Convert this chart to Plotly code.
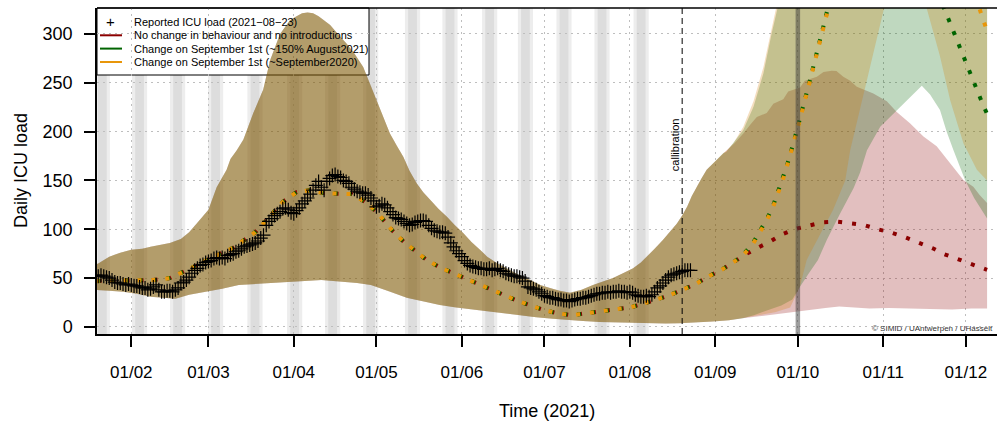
import pandas as pd
import plotly.graph_objects as go

BASE = pd.Timestamp("2021-02-01")  # day 0 of all "days" lists below

# ---------------- data (days are offsets from 2021-02-01) ----------------
obs_start_day = -13
obs_icu = [53, 52, 53, 52, 51, 50, 48,
           46, 45, 45, 44, 43, 44, 43,
           42, 42, 41, 40, 40, 38, 39,
           41, 43, 38, 36, 36, 37, 37,
           36, 38, 40, 45, 46, 48, 51,
           55, 58, 60, 63, 64, 66, 67,
           68, 70, 71, 70, 71, 70, 73,
           74, 75, 77, 78, 80, 82, 83,
           84, 85, 86, 88, 91, 94, 104,
           108, 111, 114, 116, 118, 121, 122,
           120, 117, 116, 119, 122, 126, 129,
           132, 136, 140, 145, 149, 143, 140,
           149, 152, 155, 156, 154, 153, 150,
           149, 147, 143, 141, 139, 138, 137,
           137, 135, 132, 129, 123, 124, 126,
           125, 122, 118, 115, 112, 111, 110,
           108, 106, 104, 105, 107, 108, 109,
           109, 108, 104, 101, 99, 98, 97,
           97, 96, 92, 86, 82, 78, 75,
           72, 68, 65, 63, 62, 61, 60,
           60, 59, 59, 60, 58, 59, 60,
           58, 57, 55, 54, 53, 52, 52,
           51, 50, 47, 41, 40, 39, 38,
           36, 34, 32, 31, 30, 30, 29,
           28, 28, 27, 27, 26, 27, 28,
           29, 29, 30, 30, 31, 32, 33,
           34, 34, 35, 35, 36, 35, 36,
           36, 37, 36, 36, 35, 36, 35,
           33, 32, 31, 31, 32, 31, 33,
           36, 40, 42, 45, 48, 51, 53,
           54, 55, 56, 57, 58, 58, 58]

# common model median (all scenarios identical up to late August)
med_days = [-13, -7, -2, 3, 8, 14, 18, 23, 27, 32, 37, 41, 45, 49, 52, 55, 60, 65, 70, 75,
            80, 85, 89, 92, 95, 99, 103, 107, 112, 116, 121, 126, 131, 135, 140, 145, 150,
            155, 160, 165, 170, 175, 181, 185, 191, 195, 200, 205, 209, 214, 218]
med_vals = [47, 47, 47, 47, 48, 50, 55, 62, 68, 74, 81, 89, 97, 109, 118, 128, 138, 140, 137, 137,
            136, 128, 118, 108, 98, 87, 78, 69, 61, 56, 50, 44, 38, 33, 27, 22, 17,
            14, 12, 14, 16, 18, 20, 23, 28, 32, 38, 44, 51, 58, 65]

red_med_days = [222, 227, 232, 236, 241, 246, 251, 256, 261, 266, 271, 276, 281, 286, 291, 295, 300, 305, 310.7]
red_med_vals = [72.7, 80.5, 87.5, 94.5, 100.3, 103.7, 107.2, 107.8, 106.1, 104.4, 100, 96.5, 91.8, 86.7, 80.5, 74.7, 69.3, 64.5, 58.5]

green_med_days = [222, 225.5, 228.3, 230.7, 232.9, 234.7, 236.4, 238, 239.4, 240.9, 242.1, 243.4, 244.9,
                  246.1, 247.3, 248.6, 249.8, 251, 252.3, 256, 262, 270, 278, 285, 290, 295.7, 297.6,
                  299.5, 301.4, 303.4, 305.2, 307.2, 309.2, 310.7]
green_med_vals = [73.7, 85, 97.6, 110.2, 123.1, 136.8, 150.5, 164.8, 178.4, 192.1, 206, 220.4, 234.7,
                  249.4, 263, 277.4, 291.4, 305, 319.3, 370, 440, 490, 470, 410, 360, 322, 308.4,
                  295.5, 281.8, 268.2, 254.6, 240.9, 227.6, 218]

orange_med_days = [222, 225.5, 228.3, 230.7, 232.9, 234.7, 236.4, 238, 239.4, 240.9, 242.1, 243.4, 244.9,
                   246.1, 247.3, 248.6, 249.8, 251, 252.3, 258, 266, 275, 285, 295, 303, 308.5, 310.2, 310.7]
orange_med_vals = [73, 84, 96.5, 109, 122, 135.5, 149.5, 164, 177.5, 191, 205, 219.5, 234,
                   248.5, 262, 276.5, 290.5, 304, 318.5, 390, 470, 530, 520, 450, 370, 321, 307.4, 303]

# common credible band
cu_days = [-13, -12, -8, -4, 0, 4, 7, 11, 14, 18, 21, 25, 28, 31, 34.6, 36, 38.3, 40.7, 44.3, 47.9,
           50.4, 54, 57.6, 60, 62, 64, 66, 68, 69.7, 72.2, 75, 78.2, 81, 84.2, 86.5, 89.1, 91.5,
           93.9, 96.5, 98.8, 101, 103.6, 106, 108.5, 111.5, 114.5, 117.5, 120.6, 123.5, 126.6,
           129.2, 133, 137.5, 141, 144.8, 148.5, 152, 155.5, 159.3, 163.5, 167.6, 171, 174.9,
           178.5, 182.2, 185, 187.2, 190, 193, 195.5, 198.1, 200, 201.8, 203.5, 205.3, 207,
           208.9, 211, 213.8, 215]
cu_vals = [64, 65, 72, 76, 79, 80, 82, 84, 86, 90, 97, 110, 120, 143, 161, 172, 181, 192, 219, 243,
           273, 300, 314, 318, 321, 322, 321, 318, 314, 309, 300, 290, 280, 266, 250, 232, 215,
           198, 185, 174, 160, 147, 138, 130, 121, 113, 104, 96, 87, 79,
           72, 65, 58, 53, 48, 43, 40, 37, 35, 38, 43, 46, 50,
           55, 60, 66, 72, 80, 89, 97, 106, 114, 123, 134, 144, 152,
           161, 167, 174, 178]
cl_days = [-13, -8, -3, 2, 7, 12, 16, 21, 27, 33, 39, 45, 51, 57, 63, 69, 75, 82, 87, 94, 100, 106,
           112, 118, 124, 130, 136, 141, 147, 153, 158, 164, 170, 176, 181, 188, 194, 199, 205, 211, 217]
cl_vals = [38, 37, 36, 34, 31, 30, 29, 33, 36, 39, 43, 44, 45, 46, 47, 48, 47, 45, 43, 36, 30, 26,
           22.5, 20, 18, 16, 14, 12, 10, 8.5, 7, 6, 5, 4.5, 4, 3.8, 3.6, 3.8, 4.5, 5.5, 7]

# scenario-specific band continuations
red_hi_days = [216.2, 219, 222.2, 225, 227.1, 230.7, 233.1, 236.7, 238.5, 242.8, 244.5, 248.9, 251.3,
               254.3, 256, 258.5, 261, 263.4, 266, 269.4, 274.3, 277.9, 282.7, 287.6, 292.4, 297.3,
               302.1, 305.7, 308, 310.7]
red_hi_vals = [181, 188, 198, 208, 215, 219, 228.5, 233, 241, 245, 252, 256, 261,
               262.3, 262, 256, 252, 246, 243, 239, 231, 220, 208.4, 195, 185, 168,
               150.5, 143.6, 135, 127]
red_lo_days = [222, 228, 233, 242, 248, 252, 257, 262, 268, 275, 282, 290, 298, 305, 310.7]
red_lo_vals = [9, 11, 12.5, 15.7, 18, 19.5, 21, 20, 19, 19.5, 19, 18.5, 18, 19, 19]

green_hi_days = [216, 218.6, 222.2, 225.9, 229.5, 232.5, 234.6, 240, 250, 260, 280, 300, 310.7]
green_hi_vals = [179, 189, 201.6, 225.5, 259.7, 300.6, 326, 440, 680, 880, 980, 930, 880]
green_lo_days = [222, 226, 231, 236, 240, 242.7, 246, 249.3, 252.5, 257.3, 259.8, 262.2, 264.6, 267.1,
                 271.9, 277.3, 282.7, 287, 290, 293.6, 296, 298.5, 302.7, 306, 310.7]
green_lo_vals = [9, 12, 17, 22, 28, 41, 55, 68.6, 89, 116, 130, 142, 158, 181,
                 205, 220, 235, 247, 238, 222, 200, 181, 150.5, 132, 111]

orange_hi_days = [216, 218.6, 222.2, 225.9, 229.5, 232.5, 234.6, 240, 250, 260, 280, 300, 310.7]
orange_hi_vals = [180, 188, 205, 231, 266, 308, 333, 450, 700, 900, 1000, 950, 900]
orange_lo_days = [222, 225.7, 233.7, 239.2, 242.7, 245.2, 250.1, 254.8, 259.2, 261, 264.6, 266.4, 269.4,
                  273.1, 278, 283, 286, 288.8, 293.6, 297.3, 302.1, 307, 310.7]
orange_lo_vals = [9, 11, 15, 20, 41, 68.6, 95, 120, 150, 181, 222, 243, 280,
                  324, 370, 385, 360, 326, 277, 232, 188, 161, 150]

# survey-wave stripes (centre day), calibration date, reference date
stripe_centers = [-10.5, 3.0, 16.8, 30.6, 44.9, 59.3, 73.1, 86.9, 102.1, 115.7, 130.1, 143.1, 157.1, 170.9, 185.1]
calibration_date = "2021-08-20"
highlight_date = "2021-10-01"

tick_dates = ["2021-02-01", "2021-03-01", "2021-04-01", "2021-05-01", "2021-06-01", "2021-07-01",
              "2021-08-01", "2021-09-01", "2021-10-01", "2021-11-01", "2021-12-01"]
tick_labels = ["01/02", "01/03", "01/04", "01/05", "01/06", "01/07", "01/08", "01/09", "01/10", "01/11", "01/12"]
y_ticks = [0, 50, 100, 150, 200, 250, 300]

legend_labels = ["Reported ICU load (2021\u221208\u221223)",
                 "No change in behaviour and no introductions",
                 "Change on September 1st (~150% August2021)",
                 "Change on September 1st (~September2020)"]

# ---------------- helpers ----------------
def dates(days):
    return [BASE + pd.Timedelta(days=float(d)) for d in days]

RED, GREEN, ORANGE = "#8B0000", "#006400", "#E8960A"
FILLS = {"red": "rgba(139,0,0,0.25)", "green": "rgba(0,100,0,0.25)", "orange": "rgba(210,125,0,0.25)"}
FONT = "Liberation Sans, Arial, Helvetica, sans-serif"

fig = go.Figure()

def add_band(hi_d, hi_v, lo_d, lo_v, fill):
    xs = dates(hi_d) + dates(lo_d[::-1])
    ys = list(hi_v) + list(lo_v[::-1])
    fig.add_trace(go.Scatter(x=xs, y=ys, mode="lines", fill="toself", fillcolor=fill,
                             line=dict(width=0), hoverinfo="skip", showlegend=False))

add_band(cu_days + red_hi_days, cu_vals + red_hi_vals, cl_days + red_lo_days, cl_vals + red_lo_vals, FILLS["red"])
add_band(cu_days + green_hi_days, cu_vals + green_hi_vals, cl_days + green_lo_days, cl_vals + green_lo_vals, FILLS["green"])
add_band(cu_days + orange_hi_days, cu_vals + orange_hi_vals, cl_days + orange_lo_days, cl_vals + orange_lo_vals, FILLS["orange"])

for d, v, col, dash in [(red_med_days, red_med_vals, RED, "0px,2px,4px,8px"),
                        (green_med_days, green_med_vals, GREEN, "0px,1px,4px,9px"),
                        (orange_med_days, orange_med_vals, ORANGE, "4px,10px")]:
    fig.add_trace(go.Scatter(x=dates(med_days + d), y=med_vals + v, mode="lines",
                             line=dict(color=col, width=4, dash=dash), hoverinfo="skip", showlegend=False))

obs_days = list(range(obs_start_day, obs_start_day + len(obs_icu)))
fig.add_trace(go.Scatter(x=dates(obs_days), y=obs_icu, mode="markers",
                         marker=dict(symbol="cross-thin", size=10, color="black",
                                     line=dict(color="black", width=1.2)),
                         showlegend=False))

# ---------------- shapes ----------------
shapes = []
for c in stripe_centers:
    for half in (2.75, 1.6):
        d0, d1 = dates([c - half, c + half])
        shapes.append(dict(type="rect", xref="x", yref="paper", x0=d0, x1=d1, y0=0, y1=1,
                           fillcolor="rgba(128,128,128,0.14)", line=dict(width=0), layer="between"))

W, H_, L, T = 900.0, 326.0, 97.0, 8.0
def px(xp):
    return (xp - L) / W
def py(yp):
    return (T + H_ - yp) / H_

shapes.append(dict(type="rect", xref="paper", yref="paper", x0=0, x1=px(369), y0=py(75), y1=1,
                   fillcolor="white", line=dict(color="black", width=1), layer="between"))
shapes.append(dict(type="line", xref="x", yref="paper", x0=highlight_date, x1=highlight_date, y0=0, y1=1,
                   line=dict(color="rgba(60,60,60,0.5)", width=4.5), layer="above"))
shapes.append(dict(type="line", xref="x", yref="paper", x0=calibration_date, x1=calibration_date, y0=0, y1=1,
                   line=dict(color="black", width=1, dash="6px,4px"), layer="above"))
shapes.append(dict(type="line", xref="paper", yref="paper", x0=0, x1=1, y0=1, y1=1,
                   line=dict(color="black", width=1.5), layer="above"))

rows = [22, 35.3, 48.6, 62]
for r, col in zip(rows[1:], [RED, GREEN, ORANGE]):
    shapes.append(dict(type="line", xref="paper", yref="paper", x0=px(100), x1=px(122), y0=py(r), y1=py(r),
                       line=dict(color=col, width=2), layer="above"))

annotations = []
for r, lab in zip(rows, legend_labels):
    annotations.append(dict(xref="paper", yref="paper", x=px(131.5), y=py(r), text=lab, showarrow=False,
                            xanchor="left", yanchor="middle", font=dict(size=11, color="black", family=FONT)))
annotations.append(dict(xref="paper", yref="paper", x=px(110.7), y=py(rows[0]), text="+", showarrow=False,
                        xanchor="center", yanchor="middle", font=dict(size=15, color="black", family=FONT)))
annotations.append(dict(xref="x", yref="paper", x=calibration_date, xshift=-7, y=py(145), text="callibration",
                        textangle=-90, showarrow=False, xanchor="center", yanchor="middle",
                        font=dict(size=11, color="black", family=FONT)))
annotations.append(dict(xref="paper", yref="paper", x=px(995), y=py(328), text="\u00a9 SIMID / UAntwerpen / UHasselt",
                        showarrow=False, xanchor="right", yanchor="middle",
                        font=dict(size=8, color="#333333", family=FONT)))
annotations.append(dict(xref="paper", yref="paper", x=0.5, y=py(411), text="Time (2021)", showarrow=False,
                        xanchor="center", yanchor="middle", font=dict(size=18, color="black", family=FONT)))
annotations.append(dict(xref="paper", yref="paper", x=px(21), y=0.5, text="Daily ICU load", textangle=-90,
                        showarrow=False, xanchor="center", yanchor="middle",
                        font=dict(size=18, color="black", family=FONT)))

x0, x1 = dates([-12.45, 314.3])
fig.update_layout(
    width=997, height=430, margin=dict(l=97, r=0, t=8, b=96),
    plot_bgcolor="white", paper_bgcolor="white", showlegend=False,
    font=dict(family=FONT, color="black"),
    shapes=shapes, annotations=annotations,
    xaxis=dict(type="date", range=[x0, x1], tickvals=tick_dates, ticktext=tick_labels,
               ticks="outside", ticklen=11, tickwidth=1.5, tickcolor="black",
               showline=True, linecolor="black", linewidth=1.5, mirror=False,
               showgrid=True, gridcolor="#BEBEBE", gridwidth=1, griddash="2px,4px",
               zeroline=False, tickfont=dict(size=17), ticklabelstandoff=11),
    yaxis=dict(range=[-7.2, 326.5], tickvals=y_ticks, ticks="outside", ticklen=11, tickwidth=1.5,
               tickcolor="black", showline=True, linecolor="black", linewidth=1.5,
               showgrid=True, gridcolor="#BEBEBE", gridwidth=1, griddash="2px,4px",
               zeroline=False, tickfont=dict(size=18), ticklabelstandoff=8),
)

fig.write_html("out.html")
